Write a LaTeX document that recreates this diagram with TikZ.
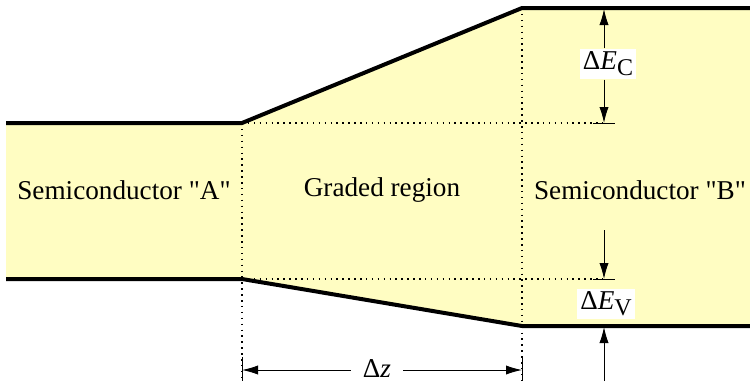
\documentclass[tikz,border=0pt]{standalone}
\usepackage{fontspec}
\setmainfont{Liberation Serif}
\usetikzlibrary{arrows.meta,positioning,calc}
\definecolor{bandfill}{HTML}{FFFDC2}

\newcommand{\dsub}[2]{Δ\textit{#1}\raisebox{-0.5ex}{\fontsize{12}{12}\selectfont #2}}

\begin{document}
\begin{tikzpicture}[x=0.5pt, y=-0.5pt,
    band/.style={line width=2pt},
    guide/.style={line width=0.75pt, dash pattern=on 0.75pt off 2.2pt},
    dim/.style={line width=0.5pt, -{Latex[length=8pt,width=4.6pt]}},
    bar/.style={line width=0.5pt},
    lbl/.style={font=\fontsize{13.6}{16}\selectfont, inner sep=0pt},
    tag/.style={lbl, fill=white, inner sep=1.5pt}]
  \useasboundingbox (0,0) rectangle (750,381);

  % band edges: A (left), graded, B (right)
  \coordinate (aTopL) at (6,123);   \coordinate (aTop) at (242,123);
  \coordinate (bTop)  at (522,8);   \coordinate (bTopR) at (750,8);
  \coordinate (aBotL) at (6,279);   \coordinate (aBot) at (242,279);
  \coordinate (bBot)  at (522,326); \coordinate (bBotR) at (750,326);

  \fill[bandfill] (aTopL) -- (aTop) -- (bTop) -- (bTopR) -- (bBotR)
    -- (bBot) -- (aBot) -- (aBotL) -- cycle;

  % dotted guides
  \coordinate (ecBar) at (604,123);
  \coordinate (evBar) at (604,279);
  \draw[guide] (aTop) -- (ecBar);
  \draw[guide] (aBot) -- (evBar);
  \draw[guide] (aTop) -- (242,381);
  \draw[guide] (bTop) -- (522,381);

  \draw[band] (aTopL) -- (aTop) -- (bTop) -- (bTopR);
  \draw[band] (aBotL) -- (aBot) -- (bBot) -- (bBotR);

  % region names
  \node[lbl] (semiA) at (124,190) {Semiconductor \textquotedbl A\textquotedbl};
  \node[lbl] (graded) at (382,190) {Graded region};
  \node[lbl] (semiB) at (640,190) {Semiconductor \textquotedbl B\textquotedbl};

  % Delta E_C
  \node[tag] (dEc) at (608,64) {\dsub{E}{C}};
  \coordinate (ecTop) at (604,9);
  \draw[dim] (dEc.north -| ecTop) -- (ecTop);
  \draw[dim] (dEc.south -| ecTop) -- (ecBar);
  \draw[bar] ($(ecBar)+(-11,0)$) -- ($(ecBar)+(11,0)$);

  % Delta E_V
  \node[tag] (dEv) at (606,304) {\dsub{E}{V}};
  \coordinate (evIn) at (604,230);
  \coordinate (evOut) at (604,381);
  \coordinate (evTop) at (604,327);
  \draw[dim] (evIn) -- (evBar);
  \draw[bar] ($(evBar)+(-11,0)$) -- ($(evBar)+(11,0)$);
  \draw[dim] (evOut) -- (evTop);

  % Delta z
  \node[lbl, inner xsep=6pt] (dz) at (377,369) {Δ\textit{z}};
  \coordinate (zL) at (242,370);
  \coordinate (zR) at (522,370);
  \draw[bar] (242,357) -- (242,381);
  \draw[bar] (522,357) -- (522,381);
  \draw[dim] (dz.west |- zL) -- (zL);
  \draw[dim] (dz.east |- zR) -- (zR);
\end{tikzpicture}
\end{document}
